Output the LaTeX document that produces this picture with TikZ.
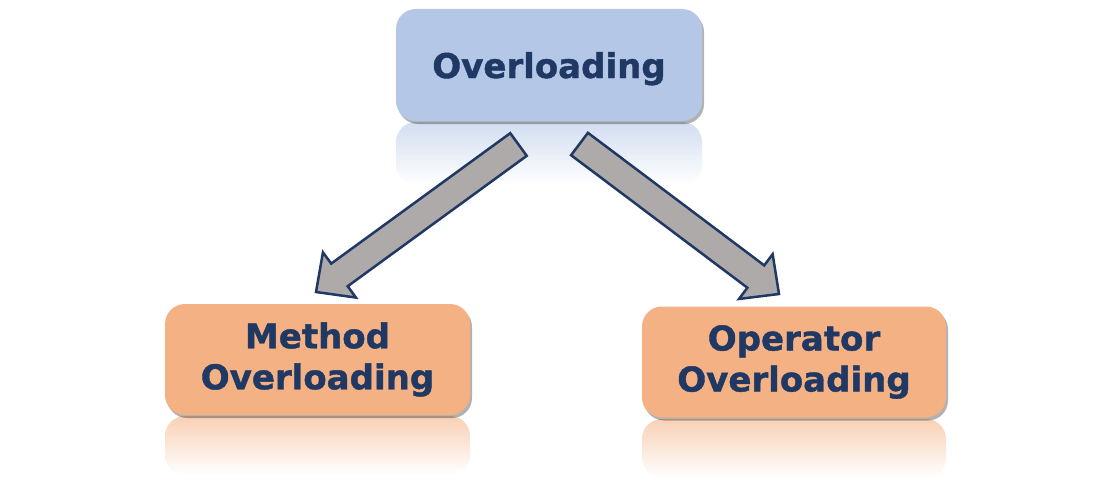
\documentclass[tikz,border=0pt]{standalone}
\usepackage{fontspec}
\setmainfont{DejaVu Sans}[BoldFeatures={FakeBold=1.2}]
\usetikzlibrary{calc,shadows}
\definecolor{navy}{HTML}{1F3864}
\definecolor{boxblue}{HTML}{B4C7E7}
\definecolor{boxorange}{HTML}{F4B183}
\definecolor{arrgray}{HTML}{AEAAAA}
\tikzset{
  topic/.style={shape=rectangle, rounded corners=20pt, draw=none, align=center,
    text=navy, font=\bfseries\fontsize{34}{41}\selectfont,
    drop shadow={shadow xshift=2pt, shadow yshift=-3pt, opacity=0.3, fill=black}},
  mirror/.style={draw=none, rounded corners=20pt, top color=#1!60!white, bottom color=white},
  blockarr/.style={draw=navy, fill=arrgray, line width=2.5pt, line join=miter}
}
\begin{document}
\begin{tikzpicture}[x=1pt, y=-1pt]
\useasboundingbox (0,0) rectangle (1095,495);
% reflections
\shade[mirror=boxblue] (396,122) rectangle (702,185);
\shade[mirror=boxorange] (165,416) rectangle (470,475);
\shade[mirror=boxorange] (642,419) rectangle (946,478);
% boxes
\node[topic, fill=boxblue, minimum width=306pt, minimum height=112pt, text height=34pt, text depth=8pt] (over) at (549,65) {Overloading};
\node[topic, fill=boxorange, minimum width=305pt, minimum height=111pt] (meth) at (317.5,359.5) {Method\\Overloading};
\node[topic, fill=boxorange, minimum width=304pt, minimum height=111pt] (oper) at (794,362) {Operator\\Overloading};
% arrow ends
\coordinate (t1) at (518.5,144.5);
\coordinate (h1) at (316,292);
\coordinate (t2) at (579.5,144);
\coordinate (h2) at (779,294);
\foreach \s/\e in {t1/h1, t2/h2}{
  \coordinate (b) at ($(\e)!29pt!(\s)$);
  \draw[blockarr] ($(\s)!14pt!90:(\e)$) -- ($(b)!14pt!-90:(\s)$) -- ($(b)!28pt!-90:(\s)$)
    -- (\e) -- ($(b)!28pt!90:(\s)$) -- ($(b)!14pt!90:(\s)$) -- ($(\s)!14pt!-90:(\e)$) -- cycle;
}
\end{tikzpicture}
\end{document}
